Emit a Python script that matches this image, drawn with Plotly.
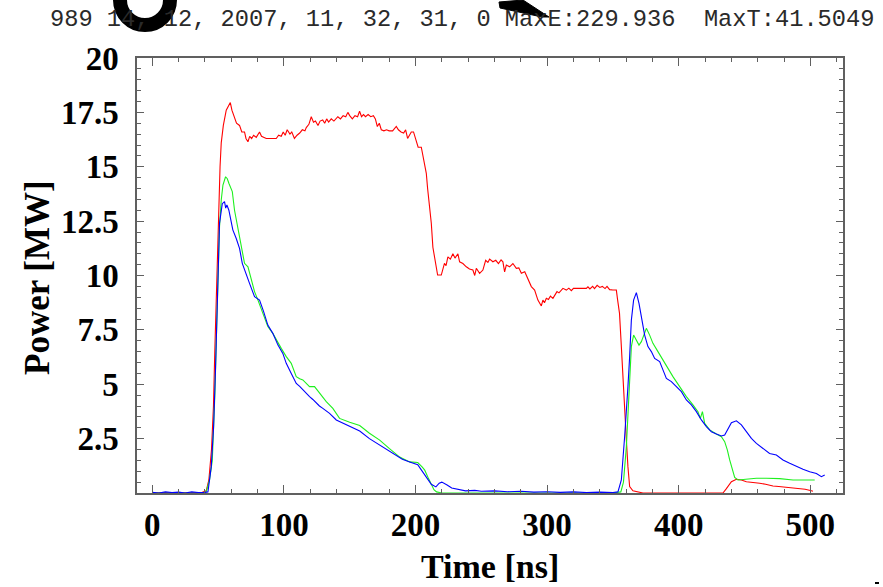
import plotly.graph_objects as go

# ---- measured power traces (time in ns, power in MW) ----
red_time = [0, 10, 20, 30, 38, 41, 43, 45, 46.5, 47.5, 48.6, 49.6, 50.6, 51.5, 52.4, 54, 56.2, 57.8, 59.3, 60.5,
            62.5, 64, 66.3, 68, 70.1, 71.2, 72.7, 74, 75.5, 77, 79, 81.5, 83, 85, 86.6, 89, 92, 94.2, 96, 98,
            99.5, 101, 102.5, 104.6, 106, 108, 110, 112, 114, 116, 117, 119, 120.8, 122.5, 124, 125.9, 127.5,
            129.5, 131, 132.5, 134, 136, 138, 139.8, 141, 143, 145, 147, 148.6, 150, 152, 154, 156, 157.5, 159,
            160.5, 162, 164, 166, 168, 169.5, 171, 172.5, 174, 176, 178, 180, 182.6, 185.4, 187, 189, 191,
            192.5, 194, 195.5, 196.8, 198.5, 200.6, 202, 204.4, 205.6, 207, 208.2, 209.2, 210.2, 212, 213.2,
            215, 216.8, 219.6, 221, 222, 223.2, 224.6, 226.5, 228.4, 230, 232.2, 233.5, 236, 238.6, 241, 243.6,
            245, 246.2, 248.7, 251.2, 253.3, 255, 256.3, 258.8, 261, 263, 265, 266.4, 267.7, 269, 271.5, 274,
            276.6, 278.5, 280.4, 283, 285.4, 288, 290.5, 293, 295.6, 296.8, 298, 299.4, 301, 302.5, 304.4, 306,
            307.5, 309, 310.8, 312, 314.6, 316.5, 318.4, 320, 325, 329.8, 331, 332.5, 334.6, 336, 338, 340, 342,
            344, 345.5, 347.5, 350, 351.5, 352.6, 353.5, 355, 356.4, 357.6, 358.9, 360.2, 361.4, 362.7, 365.2,
            368, 372.8, 400, 433.6, 436.2, 440, 443.8, 447.6, 451.4, 456, 461.5, 466, 471.6, 476, 481.8, 486,
            491.9, 496, 500.8, 502]
red_power = [0, 0.02, 0, 0.02, 0.03, 0.1, 0.6, 2.0, 4.0, 6.5, 9.0, 10.9, 13.0, 15.0, 16.1, 16.9, 17.6, 17.8, 17.95,
             17.6, 17.2, 17.0, 16.9, 16.6, 16.6, 16.3, 16.15, 16.4, 16.3, 16.45, 16.35, 16.6, 16.4, 16.35, 16.3,
             16.3, 16.3, 16.3, 16.45, 16.4, 16.6, 16.45, 16.7, 16.5, 16.6, 16.3, 16.45, 16.55, 16.7, 16.65, 16.8,
             16.95, 17.3, 17.05, 17.1, 16.9, 17.1, 17.15, 17.0, 17.2, 17.05, 17.2, 17.1, 17.2, 17.3, 17.2, 17.35,
             17.3, 17.5, 17.35, 17.2, 17.35, 17.3, 17.55, 17.3, 17.4, 17.3, 17.4, 17.3, 17.35, 17.2, 16.85, 17.0,
             16.7, 16.65, 16.7, 16.65, 16.65, 16.85, 16.7, 16.6, 16.55, 16.7, 16.3, 16.5, 16.6, 16.6, 16.2, 15.9,
             15.9, 15.46, 15.1, 14.7, 14.0, 13.47, 12.4, 11.3, 10.56, 10.02, 10.02, 10.3, 10.56, 10.45, 10.86,
             10.75, 11.0, 10.8, 11.0, 10.63, 10.55, 10.4, 10.3, 10.25, 10.0, 10.33, 10.1, 10.25, 10.7, 10.6,
             10.75, 10.63, 10.7, 10.55, 10.72, 10.63, 10.17, 10.48, 10.4, 10.55, 10.33, 10.35, 10.1, 10.17, 9.8,
             9.49, 9.33, 8.87, 8.6, 8.87, 8.75, 8.95, 8.9, 9.05, 8.95, 9.1, 9.26, 9.2, 9.3, 9.41, 9.33, 9.42, 9.3,
             9.41, 9.41, 9.41, 9.48, 9.38, 9.5, 9.4, 9.55, 9.45, 9.5, 9.4, 9.5, 9.35, 9.33, 9.33, 9.33, 8.9, 8.26,
             6.73, 5.2, 3.67, 2.44, 1.2, 0.3, 0.1, 0.05, 0.0, 0.0, 0.0, 0.2, 0.52, 0.63, 0.6, 0.52, 0.5, 0.45,
             0.4, 0.32, 0.3, 0.26, 0.24, 0.2, 0.17, 0.1, 0.08]

green_time = [0, 10, 20, 30, 40, 41, 43.5, 45.6, 46.6, 47.6, 48.6, 49.6, 50.4, 51.1, 52.4, 53.7, 55.7, 57, 58.2,
              60.8, 62.5, 65, 67.6, 70.1, 72.7, 75.2, 77.7, 80.3, 84, 87.8, 91.6, 94.2, 98, 101.8, 105.6, 109.4,
              112, 114.4, 117, 119.5, 123.3, 127, 132.2, 137.2, 142.3, 150, 157.6, 165, 172.8, 180, 188, 195.6,
              201.7, 205, 207, 210, 212, 214, 216, 220, 260, 300, 350, 356, 358, 360.2, 362.2, 364, 365.7, 367.8,
              369.8, 371.6, 373.3, 375.4, 377.9, 380.4, 384.2, 388, 391.8, 395.6, 400.7, 405.8, 410.8, 414.6,
              416.4, 418, 419.7, 423.5, 428.6, 432.4, 434.9, 436.9, 438.7, 440.7, 442.5, 445, 451.4, 459, 466.6,
              476.7, 486.8, 497, 503.3]
green_power = [0, 0, 0.02, 0, 0, 0.06, 0.6, 1.5, 2.75, 4.6, 6.9, 9.2, 10.7, 12.24, 13.47, 14.16, 14.54, 14.45,
               14.24, 13.86, 13.0, 12.24, 11.32, 10.56, 10.4, 9.8, 9.26, 8.87, 8.26, 7.65, 7.34, 7.03, 6.65, 6.27,
               5.96, 5.35, 5.25, 5.2, 5.05, 4.89, 4.89, 4.58, 4.2, 3.89, 3.43, 3.25, 3.1, 2.75, 2.43, 2.05, 1.65,
               1.43, 1.4, 1.2, 1.05, 0.65, 0.37, 0.15, 0.05, 0.0, 0.0, 0.0, 0.0, 0.05, 0.5, 2.13, 4.74, 6.73, 7.26,
               7.03, 6.8, 6.96, 7.26, 7.57, 7.26, 6.88, 6.5, 6.11, 5.73, 5.35, 4.89, 4.43, 4.05, 3.74, 3.43, 3.74,
               3.2, 2.9, 2.71, 2.59, 2.36, 1.98, 1.52, 1.06, 0.72, 0.6, 0.63, 0.68, 0.68, 0.66, 0.6, 0.6, 0.6]

blue_time = [0, 5, 10, 15, 20, 25, 30, 35, 40, 42.3, 44.8, 46.6, 48.1, 49.1, 50.1, 51.1, 53.2, 54.9, 55.8, 56.7,
             58.2, 61.2, 63.8, 66.3, 68.4, 70.9, 73.9, 77.7, 79.5, 81.5, 84.6, 87.8, 91.6, 95.5, 99.2, 101.8,
             105.6, 109.4, 112, 114.4, 117, 119.5, 122, 124.6, 127, 129.6, 134.7, 139.8, 145, 150, 157.6, 165,
             172.8, 180, 184, 190, 195.6, 201.7, 204, 207, 210, 212, 215.5, 218, 220, 222, 224, 227.5, 230,
             233.5, 238, 245, 250, 260, 270, 280, 290, 300, 310, 320, 330, 340, 350, 353.8, 356.4, 358.9, 360.2,
             361.4, 362.7, 364, 365.7, 367.8, 369.8, 371.6, 374.1, 376.6, 379.2, 381.7, 385.5, 388, 390.6,
             394.4, 398.2, 402, 405.8, 409.6, 413.4, 417.2, 421, 424.8, 428.6, 432.4, 434.9, 437.4, 440, 443.8,
             447.6, 451.4, 455.2, 459, 464, 469, 474.2, 479.2, 484.3, 489.4, 494.4, 499.5, 504.6, 508.4, 510.9]
blue_power = [0.03, 0, 0.05, 0.02, 0.04, 0.0, 0.05, 0.02, 0.03, 0.05, 1.2, 3.05, 5.8, 8.4, 10.7, 12.4, 13.3, 13.4,
              13.1, 13.24, 13.0, 12.1, 11.7, 11.25, 10.56, 10.1, 9.64, 9.03, 8.95, 8.87, 8.34, 7.72, 7.34, 6.8,
              6.42, 5.96, 5.5, 5.04, 4.9, 4.74, 4.6, 4.43, 4.3, 4.12, 4.0, 3.89, 3.66, 3.36, 3.2, 3.05, 2.85, 2.5,
              2.2, 1.9, 1.75, 1.55, 1.43, 1.3, 1.1, 0.83, 0.55, 0.4, 0.28, 0.45, 0.5, 0.45, 0.37, 0.23, 0.2, 0.14,
              0.1, 0.12, 0.08, 0.1, 0.06, 0.08, 0.04, 0.06, 0.03, 0.05, 0.02, 0.04, 0.02, 0.05, 0.6, 2.6, 3.66,
              4.89, 6.27, 7.95, 8.87, 9.21, 8.72, 8.03, 7.26, 6.73, 6.5, 6.19, 6.04, 5.66, 5.27, 5.12, 4.89, 4.66,
              4.28, 4.05, 3.74, 3.36, 3.05, 2.82, 2.71, 2.62, 2.67, 2.97, 3.23, 3.32, 3.13, 2.82, 2.51, 2.28, 2.05,
              1.82, 1.75, 1.52, 1.37, 1.21, 1.09, 0.98, 0.9, 0.75, 0.83]

y_tick_values = [2.5, 5, 7.5, 10, 12.5, 15, 17.5, 20]
y_tick_labels = ["2.5", "5", "7.5", "10", "12.5", "15", "17.5", "20"]
x_tick_values = [0, 100, 200, 300, 400, 500]
x_tick_labels = ["0", "100", "200", "300", "400", "500"]

header_text = "989 14, 12, 2007, 11, 32, 31, 0 MaxE:229.936  MaxT:41.5049"

# ---- page geometry (pixels) ----
W, H = 883, 587
ML, MR, MT, MB = 137, 40, 58, 94
PW, PH = W - ML - MR, H - MT - MB


def px(x):
    return (x - ML) / PW


def py(y):
    return (H - MB - y) / PH


serif_bold = dict(family="Liberation Serif", size=33, color="black", weight="bold")

fig = go.Figure()
for t, p, c in [(red_time, red_power, "#ff0000"),
                (green_time, green_power, "#1ef01e"),
                (blue_time, blue_power, "#0000ff")]:
    fig.add_trace(go.Scatter(x=t, y=p, mode="lines", line=dict(color=c, width=1.1),
                             showlegend=False, hoverinfo="skip"))

axis_common = dict(showline=True, linecolor="#606060", linewidth=1.5, mirror="allticks",
                   ticks="inside", tickcolor="#606060", tickwidth=1, showgrid=False, zeroline=False,
                   tickfont=serif_bold)

fig.update_xaxes(range=[-11.6, 524.8], tickvals=x_tick_values, ticktext=x_tick_labels, ticklen=8,
                 minor=dict(dtick=20, tick0=0, ticks="inside", ticklen=4, tickcolor="#606060"),
                 ticklabelstandoff=2, **axis_common)
fig.update_yaxes(range=[0, 20], tickvals=y_tick_values, ticktext=y_tick_labels, ticklen=7,
                 minor=dict(dtick=0.5, tick0=0, ticks="inside", ticklen=4, tickcolor="#606060"),
                 ticklabelstandoff=10, **axis_common)

annotations = [
    dict(text=header_text, x=px(48), y=py(20), xref="paper", yref="paper", xanchor="left",
         yanchor="middle", showarrow=False,
         font=dict(family="Liberation Mono", size=23.7, color="#2a2a2a")),
    dict(text="Time [ns]", x=px(490), y=py(566), xref="paper", yref="paper", xanchor="center",
         yanchor="middle", showarrow=False, font=dict(serif_bold, size=34)),
    dict(text="Power [MW]", x=px(37), y=py(278), xref="paper", yref="paper", xanchor="center",
         yanchor="middle", textangle=-90, showarrow=False, font=dict(serif_bold, size=35)),
]

# dark ink marks across the header line
shapes = [
    dict(type="circle", xref="paper", yref="paper", x0=px(120), x1=px(170), y0=py(25), y1=py(-25),
         line=dict(color="black", width=14), fillcolor="rgba(0,0,0,0)", layer="above"),
    dict(type="path", xref="paper", yref="paper", layer="above", fillcolor="black",
         line=dict(color="black", width=1),
         path="M {} {} L {} {} L {} {} L {} {} L {} {} Z".format(
             px(499), py(2), px(523), py(0), px(549), py(17), px(542), py(17), px(500), py(8))),
    dict(type="rect", xref="paper", yref="paper", x0=px(875), x1=px(879), y0=py(584), y1=py(582),
         fillcolor="black", line=dict(width=0), layer="above"),
]

fig.update_layout(width=W, height=H, margin=dict(l=ML, r=MR, t=MT, b=MB, autoexpand=False),
                  paper_bgcolor="white", plot_bgcolor="white", annotations=annotations, shapes=shapes)

fig.write_html("out.html")
